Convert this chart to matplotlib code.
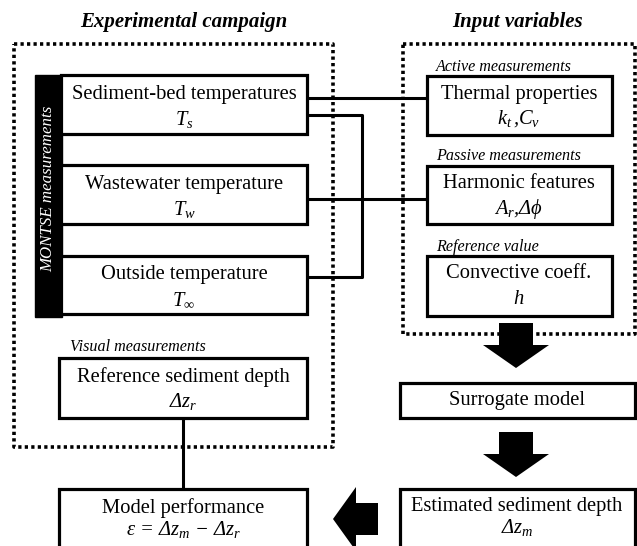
import matplotlib
matplotlib.use('Agg')
import matplotlib.pyplot as plt
from matplotlib.patches import Rectangle

plt.rcParams['font.family'] = ['Liberation Serif', 'DejaVu Serif']
plt.rcParams['mathtext.fontset'] = 'custom'
plt.rcParams['mathtext.rm'] = 'Liberation Serif'
plt.rcParams['mathtext.it'] = 'Liberation Serif:italic'

# group titles
titles = ['Experimental campaign', 'Input variables']

# measurement boxes (left column)
left_names = ['Sediment-bed temperatures', 'Wastewater temperature', 'Outside temperature']
left_syms = ['$T_s$', '$T_w$', r'$T_\infty$']

# input variable boxes (right column)
right_tags = ['Active measurements', 'Passive measurements', 'Reference value']
right_names = ['Thermal properties', 'Harmonic features', 'Convective coeff.']
right_syms = [r'$k_t\,$,$C_v$', r'$A_r$,Δ$\phi$', '$h$']

ref_tag = 'Visual measurements'
ref_name = 'Reference sediment depth'
ref_sym = 'Δ$z_r$'
surrogate_name = 'Surrogate model'
est_name = 'Estimated sediment depth'
est_sym = 'Δ$z_m$'
perf_name = 'Model performance'
perf_sym = 'ε = Δ$z_m$ − Δ$z_r$'
bar_label = 'MONTSE measurements'

fig = plt.figure(figsize=(6.37, 5.46), dpi=100)
ax = fig.add_axes([0, 0, 1, 1])
ax.set_xlim(0, 637)
ax.set_ylim(546, 0)
ax.axis('off')

LW = 2.3
FS = 14.8
TAG_FS = 11.6


def box(x0, y0, x1, y1, lw=LW):
    ax.add_patch(Rectangle((x0, y0), x1 - x0, y1 - y0, fill=True, fc='white',
                           ec='black', lw=lw, zorder=3))


def dotted(x0, y0, x1, y1):
    ax.plot([x0, x1, x1, x0, x0], [y0, y0, y1, y1, y0], color='black', lw=2.6,
            linestyle=(0, (0.9, 0.9)), dash_capstyle='butt', zorder=1)


def arrow(cx, cy, direction):
    # body 22 long, 34 wide; head 23 long, 66 wide
    if direction == 'down':
        xs = [cx - 17, cx + 17, cx + 17, cx + 33, cx, cx - 33, cx - 17]
        ys = [cy - 22, cy - 22, cy, cy, cy + 23, cy, cy]
    else:
        xs = [cx + 22, cx + 22, cx, cx, cx - 23, cx, cx]
        ys = [cy - 16, cy + 16, cy + 16, cy + 32, cy, cy - 32, cy - 16]
    ax.fill(xs, ys, color='black', lw=0, zorder=4)


# titles
ax.text(184, 22, titles[0], ha='center', va='center', fontsize=15,
        fontweight='bold', style='italic')
ax.text(518, 22, titles[1], ha='center', va='center', fontsize=15,
        fontweight='bold', style='italic')

# dotted group frames
dotted(14, 44, 333, 447)
dotted(403, 44, 635, 334)

# connectors
ax.plot([307, 427], [98, 98], color='black', lw=2.2, zorder=2)
ax.plot([307, 362, 362, 307], [115, 115, 277, 277], color='black', lw=2.2, zorder=2)
ax.plot([307, 427], [199, 199], color='black', lw=2.2, zorder=2)
ax.plot([183, 183], [418, 489], color='black', lw=2.2, zorder=2)

# black bar
ax.add_patch(Rectangle((35, 75), 27, 242, fc='black', ec='black', lw=1, zorder=3))
ax.text(48.5, 189, bar_label, rotation=90, ha='center', va='center', color='white',
        fontsize=12.2, style='italic', zorder=5)

left_y = [(75, 134), (165, 224), (256, 314)]
for (y0, y1), name, sym in zip(left_y, left_names, left_syms):
    box(61, y0, 307, y1)
    ax.text(184, y0 + 19, name, ha='center', va='center', fontsize=FS, zorder=5)
    ax.text(184, y0 + 45, sym, ha='center', va='center', fontsize=FS, zorder=5)

right_y = [(76, 135), (166, 224), (256, 316)]
tag_y = [67, 156, 247]
for (y0, y1), ty, tag, name, sym in zip(right_y, tag_y, right_tags, right_names, right_syms):
    ax.text(436, ty, tag, ha='left', va='center', fontsize=TAG_FS, style='italic')
    box(427, y0, 612, y1)
    ax.text(519, y0 + 18, name, ha='center', va='center', fontsize=FS, zorder=5)
    ax.text(519, y0 + 43, sym, ha='center', va='center', fontsize=FS, zorder=5,
            style='italic')

# reference depth
ax.text(70, 347, ref_tag, ha='left', va='center', fontsize=TAG_FS, style='italic')
box(59, 358, 307, 418)
ax.text(183, 377, ref_name, ha='center', va='center', fontsize=FS, zorder=5)
ax.text(183, 402, ref_sym, ha='center', va='center', fontsize=FS, zorder=5, style='italic')

# surrogate model chain
arrow(516, 345, 'down')
box(400, 383, 635, 418)
ax.text(517, 401, surrogate_name, ha='center', va='center', fontsize=FS, zorder=5)
arrow(516, 454, 'down')
box(400, 489, 635, 560)
ax.text(517, 507, est_name, ha='center', va='center', fontsize=FS, zorder=5)
ax.text(517, 528, est_sym, ha='center', va='center', fontsize=FS, zorder=5, style='italic')

arrow(356, 519, 'left')
box(59, 489, 307, 560)
ax.text(183, 508, perf_name, ha='center', va='center', fontsize=FS, zorder=5)
ax.text(183, 530, perf_sym, ha='center', va='center', fontsize=FS, zorder=5, style='italic')

fig.savefig('out.png', dpi=100)
